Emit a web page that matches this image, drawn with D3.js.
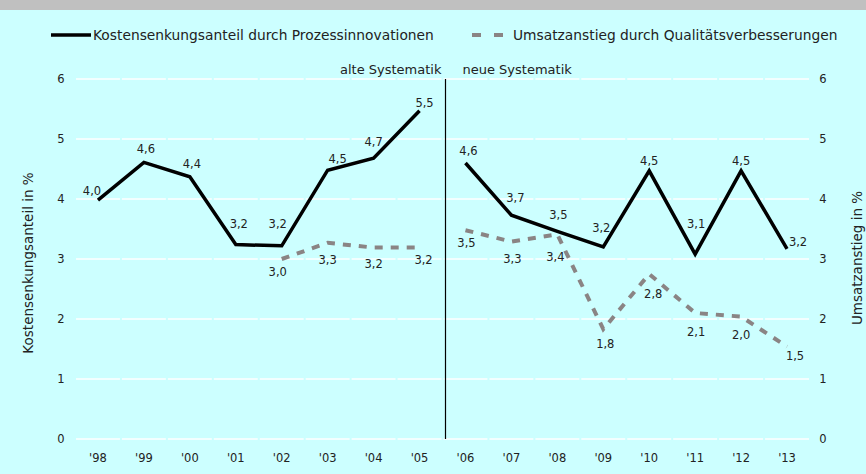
<!DOCTYPE html>
<html>
<head>
<meta charset="utf-8">
<script src="https://cdn.jsdelivr.net/npm/d3@7"></script>
<style>
  body { margin: 0; background: #ccffff; }
  svg { display: block; font-family: "DejaVu Sans", Verdana, sans-serif; }
</style>
</head>
<body>
<svg id="chart"></svg>
<script>
// Jahre
const years = ["'98", "'99", "'00", "'01", "'02", "'03", "'04", "'05",
               "'06", "'07", "'08", "'09", "'10", "'11", "'12", "'13"];

// Kostensenkungsanteil durch Prozessinnovationen (linke Achse)
const kosten = [3.98, 4.61, 4.37, 3.24, 3.22, 4.48, 4.68, 5.47,
                4.6, 3.73, 3.46, 3.2, 4.47, 3.08, 4.47, 3.17];

// Umsatzanstieg durch Qualitätsverbesserungen (rechte Achse)
const umsatz = [null, null, null, null, 3.0, 3.27, 3.19, 3.19,
                3.48, 3.29, 3.41, 1.83, 2.75, 2.1, 2.04, 1.54];

const yTicks = [0, 1, 2, 3, 4, 5, 6];

// Versatz der Beschriftungen (nur Layout)
const kostenOffset = [[-6, -9], [2, -13], [2, -13], [3, -21], [-4, -22], [10, -11], [0, -16], [5, -8],
                      [3, -12], [4, -17], [1, -16], [-2, -19], [0, -10], [1, -30], [0, -10], [11, -7]];
const umsatzOffset = [null, null, null, null, [-4, 13], [0, 17], [0, 16], [4, 12],
                      [1, 13], [1, 17], [-2, 23], [2, 15], [4, 20], [1, 19], [0, 18], [8, 9]];

const width = 866, height = 474;
const svg = d3.select("#chart").attr("width", width).attr("height", height);

svg.append("rect").attr("width", width).attr("height", height).attr("fill", "#ccffff");
svg.append("rect").attr("width", width).attr("height", 10).attr("fill", "#c0c0c0");

const x = d3.scaleBand().domain(years).range([75, 810]).padding(0);
const y = d3.scaleLinear().domain([0, 6]).range([439, 79]);
const cx = d => x(d) + x.bandwidth() / 2;

// Gitternetz, je Kategorie unterbrochen
yTicks.forEach(t => {
    svg.append("g").selectAll("line")
        .data(years).enter().append("line")
        .attr("x1", d => x(d) + 1)
        .attr("x2", d => x(d) + x.bandwidth() - 1)
        .attr("y1", y(t)).attr("y2", y(t))
        .attr("stroke", "#ffffff")
        .attr("stroke-width", 1.5);
});

// Achsen links und rechts
svg.append("g").selectAll("text")
    .data(yTicks).enter().append("text")
    .attr("x", 61).attr("y", d => y(d))
    .attr("text-anchor", "middle").attr("dominant-baseline", "central")
    .attr("font-size", "11.5px").attr("fill", "#222")
    .text(d => d);

svg.append("g").selectAll("text")
    .data(yTicks).enter().append("text")
    .attr("x", 823).attr("y", d => y(d))
    .attr("text-anchor", "middle").attr("dominant-baseline", "central")
    .attr("font-size", "11.5px").attr("fill", "#222")
    .text(d => d);

svg.append("g").selectAll("text")
    .data(years).enter().append("text")
    .attr("x", d => cx(d)).attr("y", 458)
    .attr("text-anchor", "middle").attr("dominant-baseline", "central")
    .attr("font-size", "11.5px").attr("fill", "#222")
    .text(d => d);

svg.append("text")
    .attr("transform", "translate(28,263) rotate(-90)")
    .attr("text-anchor", "middle").attr("dominant-baseline", "central")
    .attr("font-size", "13.5px").attr("fill", "#222")
    .text("Kostensenkungsanteil in %");

svg.append("text")
    .attr("transform", "translate(857,258) rotate(-90)")
    .attr("text-anchor", "middle").attr("dominant-baseline", "central")
    .attr("font-size", "13.5px").attr("fill", "#222")
    .text("Umsatzanstieg in %");

// Trennlinie alte / neue Systematik
const divX = x(years[8]) + 3;
svg.append("line")
    .attr("x1", divX).attr("x2", divX)
    .attr("y1", y(6)).attr("y2", y(0))
    .attr("stroke", "#000").attr("stroke-width", 1.2);

svg.append("text").attr("x", divX - 4).attr("y", 69)
    .attr("text-anchor", "end").attr("dominant-baseline", "central")
    .attr("font-size", "13px").attr("fill", "#222")
    .text("alte Systematik");
svg.append("text").attr("x", divX + 17).attr("y", 69)
    .attr("text-anchor", "start").attr("dominant-baseline", "central")
    .attr("font-size", "13px").attr("fill", "#222")
    .text("neue Systematik");

// Linien, getrennt nach Systematik
const line = d3.line()
    .defined(d => d.v != null)
    .x(d => cx(d.year))
    .y(d => y(d.v));

function rows(values) {
    return values.map((v, i) => ({ year: years[i], v: v, i: i }));
}
const kostenRows = rows(kosten);
const umsatzRows = rows(umsatz);

[[0, 8], [8, 16]].forEach(([a, b]) => {
    svg.append("path")
        .datum(umsatzRows.slice(a, b))
        .attr("d", line)
        .attr("fill", "none")
        .attr("stroke", "#8a8484")
        .attr("stroke-width", 4)
        .attr("stroke-dasharray", "8,8");
    svg.append("path")
        .datum(kostenRows.slice(a, b))
        .attr("d", line)
        .attr("fill", "none")
        .attr("stroke", "#000")
        .attr("stroke-width", 3.5)
        .attr("stroke-linejoin", "miter");
});

// Datenbeschriftungen
const fmt = v => v.toFixed(1).replace(".", ",");

svg.append("g").selectAll("text")
    .data(kostenRows).enter().append("text")
    .attr("x", d => cx(d.year) + kostenOffset[d.i][0])
    .attr("y", d => y(d.v) + kostenOffset[d.i][1])
    .attr("text-anchor", "middle").attr("dominant-baseline", "central")
    .attr("font-size", "11.5px").attr("fill", "#222")
    .text(d => fmt(d.v));

svg.append("g").selectAll("text")
    .data(umsatzRows.filter(d => d.v != null)).enter().append("text")
    .attr("x", d => cx(d.year) + umsatzOffset[d.i][0])
    .attr("y", d => y(d.v) + umsatzOffset[d.i][1])
    .attr("text-anchor", "middle").attr("dominant-baseline", "central")
    .attr("font-size", "11.5px").attr("fill", "#222")
    .text(d => fmt(d.v));

// Legende
const legend = svg.append("g");
legend.append("line")
    .attr("x1", 51).attr("x2", 91).attr("y1", 35).attr("y2", 35)
    .attr("stroke", "#000").attr("stroke-width", 3.5);
legend.append("text").attr("x", 93).attr("y", 35)
    .attr("dominant-baseline", "central")
    .attr("font-size", "13.8px").attr("fill", "#222")
    .text("Kostensenkungsanteil durch Prozessinnovationen");
legend.append("line")
    .attr("x1", 472).attr("x2", 503).attr("y1", 35).attr("y2", 35)
    .attr("stroke", "#8a8484").attr("stroke-width", 4)
    .attr("stroke-dasharray", "9,13");
legend.append("text").attr("x", 513).attr("y", 35)
    .attr("dominant-baseline", "central")
    .attr("font-size", "13.8px").attr("fill", "#222")
    .text("Umsatzanstieg durch Qualitätsverbesserungen");
</script>
</body>
</html>
